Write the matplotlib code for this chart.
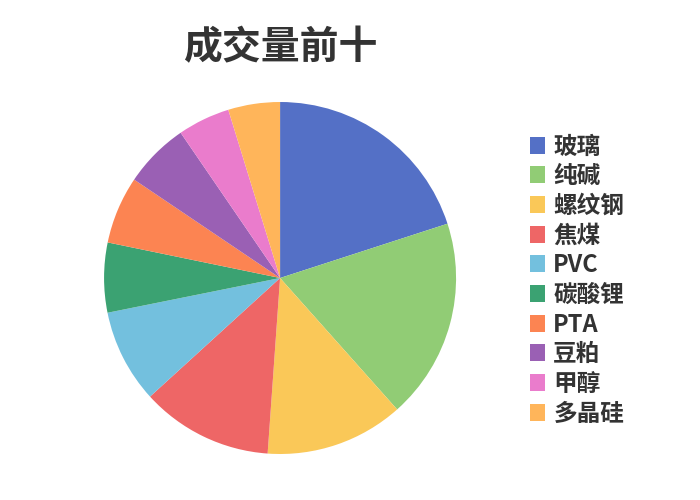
import matplotlib
matplotlib.use('Agg')
import matplotlib.pyplot as plt
from matplotlib.patches import Patch

plt.rcParams['font.family'] = ['Noto Sans CJK SC', 'DejaVu Sans']

# données (parts en %)
noms = ['玻璃', '纯碱', '螺纹钢', '焦煤', 'PVC', '碳酸锂', 'PTA', '豆粕', '甲醇', '多晶硅']
parts = [20.0, 18.4, 12.7, 12.1, 8.6, 6.4, 6.2, 6.0, 4.8, 4.75]
couleurs = ['#5470c6', '#91cc75', '#fac858', '#ee6666', '#73c0de',
            '#3ba272', '#fc8452', '#9a60b4', '#ea7ccc', '#ffb55a']

fig = plt.figure(figsize=(7, 5), dpi=100)
ax = fig.add_axes([0.1486, 0.092, 0.503, 0.704])
ax.pie(parts, colors=couleurs, startangle=90, counterclock=False,
       radius=1, wedgeprops={'linewidth': 0})
ax.set_xlim(-1, 1)
ax.set_ylim(-1, 1)
ax.set_aspect('equal')

fig.text(0.4, 0.904, '成交量前十', ha='center', va='center',
         fontsize=28, fontweight='bold', color='#333333')

# légende à droite
poignees = [Patch(facecolor=c, edgecolor='none') for c in couleurs]
leg = fig.legend(poignees, noms, loc='center left', bbox_to_anchor=(0.757, 0.44),
                 frameon=False, labelcolor='#333333',
                 prop={'size': 17, 'weight': 'bold'},
                 handlelength=0.64, handleheight=0.72, handletextpad=0.35,
                 labelspacing=0.24, borderpad=0, borderaxespad=0)

plt.savefig('out.png', dpi=100)
